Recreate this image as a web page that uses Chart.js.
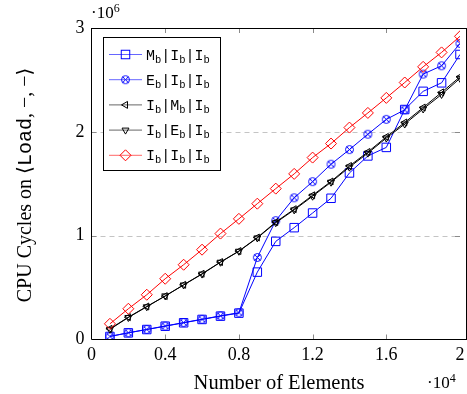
<!DOCTYPE html>
<html>
<head>
<meta charset="utf-8">
<script src="https://cdn.jsdelivr.net/npm/chart.js@4.4.0/dist/chart.umd.min.js"></script>
<style>
  html, body { margin: 0; padding: 0; background: #fff; }
</style>
</head>
<body>
<canvas id="myChart" width="467" height="394"></canvas>
<script>
// x axis: number of elements
const elements = [1000, 2000, 3000, 4000, 5000, 6000, 7000, 8000, 9000, 10000,
                  11000, 12000, 13000, 14000, 15000, 16000, 17000, 18000, 19000, 20000];

// CPU cycles (in units of 10^6)
const mbIbIb = [0.029, 0.064, 0.096, 0.128, 0.161, 0.193, 0.225, 0.254, 0.649, 0.945,
                1.077, 1.218, 1.36, 1.604, 1.768, 1.85, 2.215, 2.39, 2.472, 2.745];
const ebIbIb = [0.03, 0.065, 0.097, 0.13, 0.163, 0.195, 0.228, 0.258, 0.79, 1.145,
                1.365, 1.52, 1.688, 1.829, 1.977, 2.12, 2.212, 2.556, 2.636, 2.851];
const ibMbIb = [0.103, 0.215, 0.318, 0.418, 0.527, 0.633, 0.746, 0.852, 0.982, 1.131,
                1.255, 1.389, 1.522, 1.671, 1.806, 1.951, 2.09, 2.234, 2.38, 2.53];
const ibEbIb = [0.098, 0.212, 0.315, 0.42, 0.525, 0.63, 0.744, 0.85, 0.978, 1.125,
                1.248, 1.38, 1.515, 1.66, 1.795, 1.94, 2.075, 2.22, 2.36, 2.515];
const ibIbIb = [0.151, 0.296, 0.431, 0.585, 0.72, 0.865, 1.02, 1.162, 1.308, 1.453,
                1.595, 1.752, 1.887, 2.041, 2.182, 2.327, 2.475, 2.626, 2.765, 2.92];

// legend names, each letter gets a subscript b
const legendNames = [['M', 'I', 'I'], ['E', 'I', 'I'], ['I', 'M', 'I'], ['I', 'E', 'I'], ['I', 'I', 'I']];

const xTicks = [0, 4000, 8000, 12000, 16000, 20000];
const yTicks = [0, 1, 2, 3];

const SERIF = '"Liberation Serif", "DejaVu Serif", serif';
const MONO = '"Liberation Mono", "DejaVu Sans Mono", monospace';

// circle with a cross inside (⊗ marker)
function circX(color) {
  const c = document.createElement('canvas');
  c.width = 11; c.height = 11;
  const g = c.getContext('2d');
  g.strokeStyle = color; g.lineWidth = 1;
  g.beginPath(); g.arc(5.5, 5.5, 4, 0, Math.PI * 2); g.stroke();
  const d = 4 * Math.SQRT1_2;
  g.beginPath();
  g.moveTo(5.5 - d, 5.5 - d); g.lineTo(5.5 + d, 5.5 + d);
  g.moveTo(5.5 + d, 5.5 - d); g.lineTo(5.5 - d, 5.5 + d);
  g.stroke();
  return c;
}
const circXBlue = circX('#0000ff');

function pts(vals) {
  return vals.map((v, i) => ({ x: elements[i], y: v }));
}

function series(data, color, style, radius, rotation, order) {
  return {
    data: pts(data),
    borderColor: color,
    backgroundColor: 'transparent',
    borderWidth: 1,
    pointStyle: style,
    pointRadius: radius,
    pointRotation: rotation,
    pointBorderColor: color,
    pointBackgroundColor: 'transparent',
    pointBorderWidth: 1,
    tension: 0,
    order: order
  };
}

const datasets = [
  series(mbIbIb, '#0000ff', 'rect', 6, 0, 4),
  series(ebIbIb, '#0000ff', circXBlue, 4, 0, 3),
  series(ibMbIb, '#000000', 'triangle', 4, -90, 2),
  series(ibEbIb, '#000000', 'triangle', 4, 180, 1),
  series(ibIbIb, '#ff0000', 'rectRot', 5.5, 0, 0)
];

// marker for the legend (same look as the plot)
function drawMarker(ctx, ds, x, y) {
  const s = ds.pointStyle, r = ds.pointRadius;
  ctx.save();
  ctx.strokeStyle = ds.borderColor;
  ctx.lineWidth = 1;
  if (s instanceof HTMLCanvasElement) {
    ctx.drawImage(s, x - s.width / 2, y - s.height / 2);
  } else if (s === 'rect') {
    const h = Math.SQRT1_2 * r;
    ctx.strokeRect(x - h, y - h, 2 * h, 2 * h);
  } else if (s === 'rectRot') {
    ctx.beginPath();
    ctx.moveTo(x, y - r); ctx.lineTo(x + r, y); ctx.lineTo(x, y + r); ctx.lineTo(x - r, y);
    ctx.closePath(); ctx.stroke();
  } else if (s === 'triangle') {
    const rot = ds.pointRotation * Math.PI / 180;
    ctx.beginPath();
    for (let k = 0; k < 3; k++) {
      const a = rot + k * 2 * Math.PI / 3;
      const px = x + Math.sin(a) * r, py = y - Math.cos(a) * r;
      if (k === 0) ctx.moveTo(px, py); else ctx.lineTo(px, py);
    }
    ctx.closePath(); ctx.stroke();
  }
  ctx.restore();
}

// text made of pieces: [[text, font, dy], ...]
function drawPieces(ctx, pieces, x, y) {
  pieces.forEach(p => {
    ctx.font = p[1];
    ctx.fillText(p[0], x, y + p[2]);
    x += ctx.measureText(p[0]).width;
  });
  return x;
}
function piecesWidth(ctx, pieces) {
  let w = 0;
  pieces.forEach(p => { ctx.font = p[1]; w += ctx.measureText(p[0]).width; });
  return w;
}

const frame = {
  id: 'frame',
  beforeDatasetsDraw(chart) {
    const { ctx, chartArea: a, scales: { y } } = chart;
    ctx.save();
    ctx.strokeStyle = '#c4c4c4';
    ctx.lineWidth = 1;
    ctx.setLineDash([5, 4]);
    yTicks.slice(1, -1).forEach(v => {
      const py = Math.round(y.getPixelForValue(v)) + 0.5;
      ctx.beginPath(); ctx.moveTo(a.left, py); ctx.lineTo(a.right, py); ctx.stroke();
    });
    ctx.restore();
  },
  afterDatasetsDraw(chart) {
    const { ctx, chartArea: a, scales: { x, y } } = chart;
    ctx.save();
    // tick marks, inside
    ctx.strokeStyle = '#8a8a8a';
    ctx.lineWidth = 1;
    xTicks.slice(1, -1).forEach(v => {
      const px = Math.round(x.getPixelForValue(v)) + 0.5;
      ctx.beginPath();
      ctx.moveTo(px, a.bottom); ctx.lineTo(px, a.bottom - 5);
      ctx.moveTo(px, a.top); ctx.lineTo(px, a.top + 5);
      ctx.stroke();
    });
    yTicks.slice(1, -1).forEach(v => {
      const py = Math.round(y.getPixelForValue(v)) + 0.5;
      ctx.beginPath();
      ctx.moveTo(a.left, py); ctx.lineTo(a.left + 5, py);
      ctx.moveTo(a.right, py); ctx.lineTo(a.right - 5, py);
      ctx.stroke();
    });
    // axis box
    ctx.strokeStyle = '#000';
    ctx.beginPath();
    ctx.moveTo(91.5, 28); ctx.lineTo(91.5, 339.5); ctx.lineTo(467, 339.5);
    ctx.moveTo(91.5, 28.5); ctx.lineTo(467, 28.5);
    ctx.moveTo(466.5, 28); ctx.lineTo(466.5, 339.5);
    ctx.stroke();
    ctx.restore();
  },
  afterDraw(chart) {
    const ctx = chart.ctx;
    ctx.save();
    ctx.fillStyle = '#000';
    ctx.textBaseline = 'alphabetic';
    ctx.textAlign = 'left';

    // legend
    const lx = 103.5, ly = 37.5, lw = 117, lh = 133;
    ctx.fillStyle = '#fff';
    ctx.fillRect(lx, ly, lw, lh);
    ctx.strokeStyle = '#000';
    ctx.lineWidth = 1;
    ctx.strokeRect(lx, ly, lw, lh);
    legendNames.forEach((nm, i) => {
      const ds = datasets[i];
      const cy = 54.5 + i * 25.2;
      ctx.strokeStyle = ds.borderColor;
      ctx.globalAlpha = 0.6;
      ctx.beginPath(); ctx.moveTo(109, cy); ctx.lineTo(142, cy); ctx.stroke();
      ctx.globalAlpha = 1;
      drawMarker(ctx, ds, 125.5, cy);
      ctx.fillStyle = '#000';
      const pieces = [];
      nm.forEach((c, k) => {
        if (k > 0) pieces.push(['|', '15px ' + MONO, 0]);
        pieces.push([c, '15px ' + MONO, 0]);
        pieces.push(['b', '10.5px ' + MONO, 3]);
      });
      drawPieces(ctx, pieces, 146, cy + 5);
    });

    // exponent markers
    drawPieces(ctx, [['·10', '17px ' + SERIF, 0], ['6', '12px ' + SERIF, -6]], 91, 17.5);
    drawPieces(ctx, [['·10', '17px ' + SERIF, 0], ['4', '12px ' + SERIF, -6]], 427, 388);

    // x title
    ctx.font = '20.5px ' + SERIF;
    ctx.textAlign = 'center';
    ctx.fillText('Number of Elements', 279, 389);
    ctx.textAlign = 'left';

    // y title (rotated)
    const ty = [['CPU Cycles on \u27E8', '20px ' + SERIF, 0], ['Load', '20px ' + MONO, 0], [', \u2212, \u2212\u27E9', '20px ' + SERIF, 0]];
    const tw = piecesWidth(ctx, ty);
    ctx.translate(30.5, 185);
    ctx.rotate(-Math.PI / 2);
    drawPieces(ctx, ty, -tw / 2, 0);
    ctx.restore();
  }
};

const ctx = document.getElementById('myChart').getContext('2d');
const myChart = new Chart(ctx, {
  type: 'line',
  data: { datasets: datasets },
  options: {
    responsive: false,
    animation: false,
    devicePixelRatio: 1,
    layout: { padding: { top: 28, right: 0.5, left: 0, bottom: 0 } },
    plugins: { legend: { display: false }, tooltip: { enabled: false } },
    elements: { line: { borderJoinStyle: 'round' } },
    scales: {
      x: {
        type: 'linear',
        min: 0,
        max: 20000,
        afterBuildTicks: s => { s.ticks = xTicks.map(v => ({ value: v })); },
        afterFit: s => { s.height = 54.5; s.paddingLeft = 0; s.paddingRight = 0; },
        grid: { display: false, drawTicks: false },
        border: { display: false },
        ticks: {
          padding: 5,
          maxRotation: 0,
          autoSkip: false,
          color: '#000',
          font: { family: SERIF, size: 18 },
          callback: v => String(Number((v / 10000).toFixed(1)))
        }
      },
      y: {
        min: 0,
        max: 3,
        afterBuildTicks: s => { s.ticks = yTicks.map(v => ({ value: v })); },
        afterFit: s => { s.width = 91.5; s.paddingTop = 0; s.paddingBottom = 0; },
        grid: { display: false, drawTicks: false },
        border: { display: false },
        ticks: {
          padding: 7,
          color: '#000',
          font: { family: SERIF, size: 18 },
          callback: v => String(v)
        }
      }
    }
  },
  plugins: [frame]
});
</script>
</body>
</html>
